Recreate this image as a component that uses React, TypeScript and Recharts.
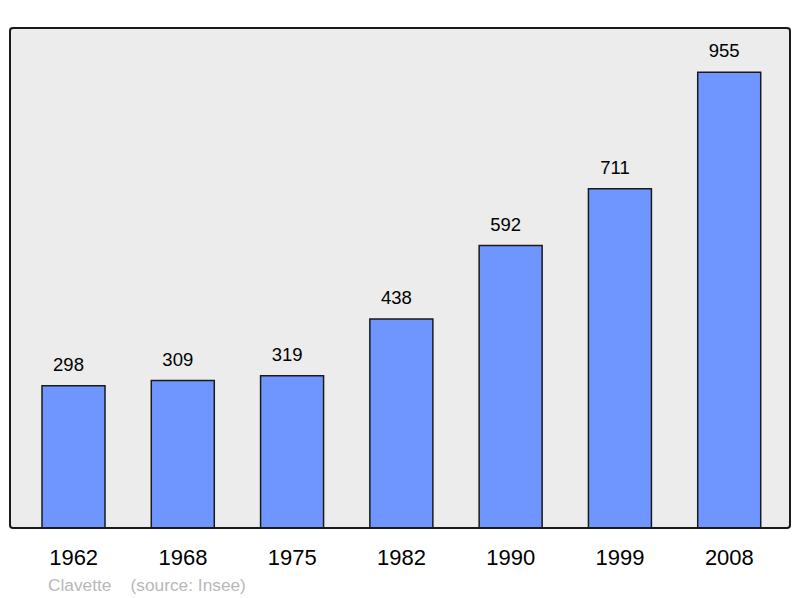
import { BarChart, Bar, XAxis, YAxis, CartesianGrid, LabelList } from "recharts";

const years = ["1962", "1968", "1975", "1982", "1990", "1999", "2008"];
const population = [298, 309, 319, 438, 592, 711, 955];

const data = years.map((year, i) => ({ year, value: population[i] }));

const font = "'Liberation Sans', Arial, sans-serif";

export default function App() {
  return (
    <div style={{ position: "absolute", left: 0, top: 0, width: 800, height: 598, background: "#fff", fontFamily: font }}>
      <BarChart
        width={800}
        height={598}
        data={data}
        margin={{ top: 27, right: 9, bottom: 0, left: 9 }}
        barSize={63}
      >
        <CartesianGrid fill="#ececec" horizontal={false} vertical={false} />
        <YAxis hide domain={[0, 1050]} />
        <XAxis
          dataKey="year"
          height={70}
          axisLine={false}
          tickLine={false}
          tickSize={0}
          tickMargin={21}
          padding={{ left: 10, right: 7 }}
          tick={{ fontSize: 22, fill: "#000", fontFamily: font }}
        />
        <Bar dataKey="value" fill="#6f96ff" stroke="#1a1a1a" strokeWidth={1.5} isAnimationActive={false}>
          <LabelList dataKey="value" position="top" offset={15} dx={-5} style={{ fontSize: 18.5, fill: "#000", fontFamily: font }} />
        </Bar>
      </BarChart>
      <div
        style={{
          position: "absolute",
          left: 9,
          top: 27,
          width: 782,
          height: 502,
          border: "2px solid #1a1a1a",
          borderRadius: 4,
          boxSizing: "border-box",
          pointerEvents: "none",
        }}
      />
      <div style={{ position: "absolute", left: 48, top: 575, fontSize: 17.3, color: "#b8b8b8", whiteSpace: "pre" }}>
        {"Clavette    (source: Insee)"}
      </div>
    </div>
  );
}
